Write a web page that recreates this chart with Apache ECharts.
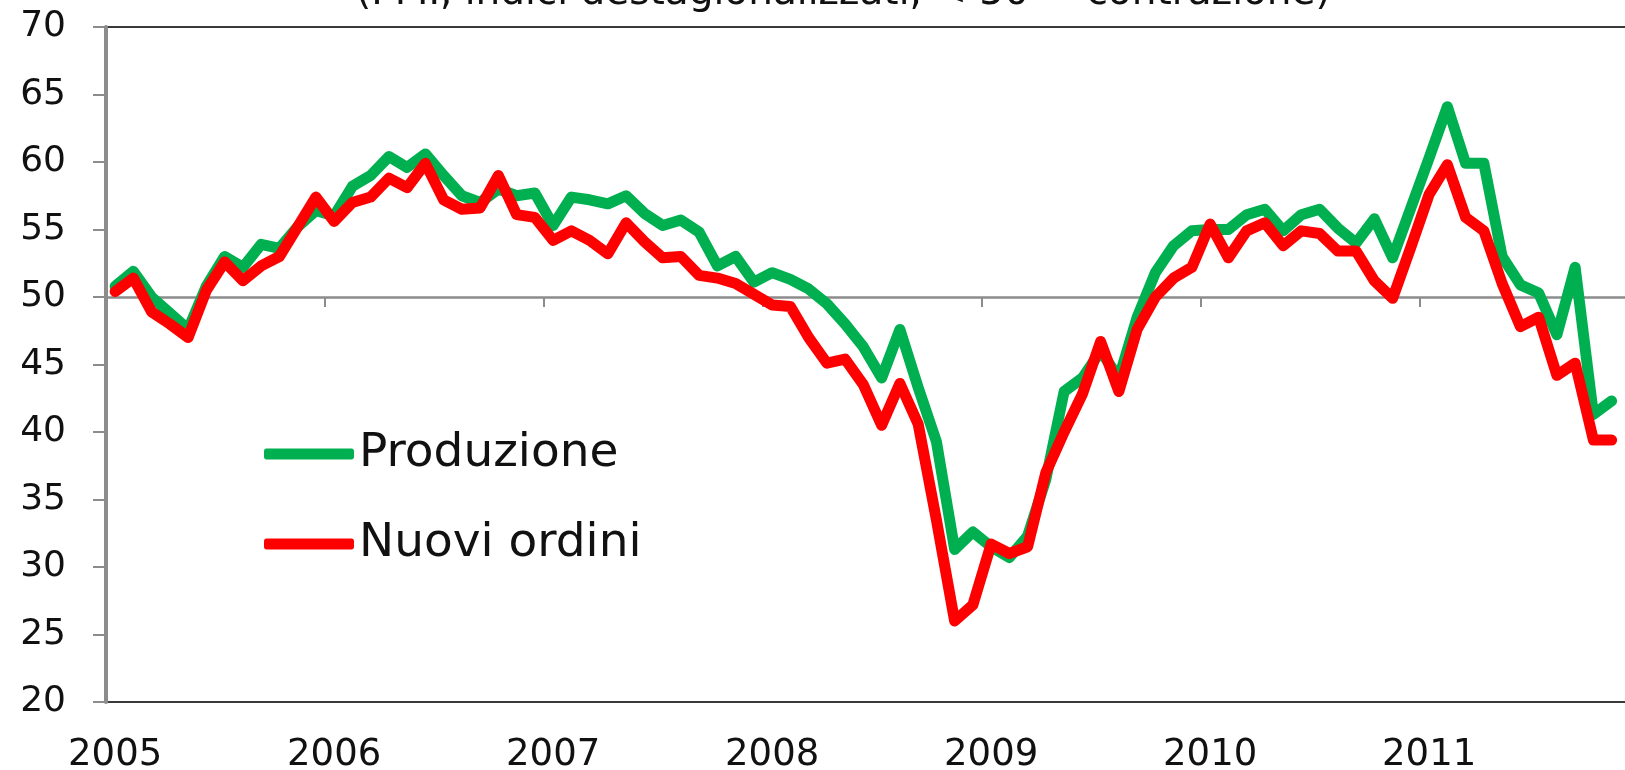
<!DOCTYPE html>
<html>
<head>
<meta charset="utf-8">
<script src="https://cdn.jsdelivr.net/npm/echarts@6/dist/echarts.min.js"></script>
<style>
html,body{margin:0;padding:0;background:#fff;}
#chart{width:1625px;height:770px;}
</style>
</head>
<body>
<div id="chart"></div>
<script>
// Tick labels (years) and months
const years = ['2005','2006','2007','2008','2009','2010','2011'];
const months = ['01','02','03','04','05','06','07','08','09','10','11','12'];

// Series values, Jan 2005 .. Nov 2011 (PMI)
const produzione = [
  50.8, 51.9, 50.0, 48.8, 47.6, 50.8, 53.0, 52.2, 53.9, 53.6, 55.2, 56.4,
  56.0, 58.2, 59.0, 60.4, 59.6, 60.6, 59.0, 57.5, 57.0, 58.0, 57.5, 57.7,
  55.3, 57.4, 57.2, 56.9, 57.5, 56.2, 55.3, 55.7, 54.8, 52.3, 53.0, 51.1,
  51.8, 51.3, 50.6, 49.5, 48.0, 46.3, 44.0, 47.6, 43.3, 39.3, 31.3, 32.6,
  31.5, 30.7, 32.3, 36.5, 43.0, 44.0, 46.0, 44.0, 48.5, 51.8, 53.8, 54.9,
  55.0, 55.0, 56.1, 56.5, 54.9, 56.1, 56.5, 55.1, 54.0, 55.8, 52.9, 56.6,
  60.3, 64.1, 59.9, 59.9, 53.0, 50.9, 50.3, 47.2, 52.2, 41.3, 42.3
];
const nuoviOrdini = [
  50.4, 51.4, 48.9, 48.0, 47.0, 50.5, 52.6, 51.2, 52.3, 53.0, 55.2, 57.4,
  55.6, 57.0, 57.4, 58.8, 58.1, 59.9, 57.2, 56.5, 56.6, 59.0, 56.1, 55.9,
  54.2, 54.9, 54.2, 53.2, 55.5, 54.1, 52.9, 53.0, 51.6, 51.4, 51.0, 50.2,
  49.4, 49.3, 47.0, 45.1, 45.4, 43.5, 40.5, 43.6, 40.6, 33.5, 26.0, 27.2,
  31.7, 31.0, 31.5, 37.0, 40.0, 42.8, 46.7, 43.0, 47.6, 50.0, 51.4, 52.2,
  55.4, 52.9, 54.9, 55.5, 53.8, 54.9, 54.7, 53.4, 53.4, 51.2, 49.9, 53.7,
  57.6, 59.8, 55.9, 54.9, 51.0, 47.8, 48.5, 44.2, 45.1, 39.4, 39.4
];

const seriesNames = ['Produzione', 'Nuovi ordini'];
const titleText = '(PMI, indici destagionalizzati, < 50 = contrazione)';

const categories = [];
years.forEach(y => months.forEach(m => categories.push(y + '-' + m)));

const FONT = 'DejaVu Sans';
const gridTop = 27, gridBottom = 68;
const plotH = 770 - gridTop - gridBottom;
const yMin = 20, yMax = 70, yCross = 50;

const chart = echarts.init(document.getElementById('chart'), null, {renderer: 'canvas'});
chart.setOption({
  animation: false,
  backgroundColor: '#ffffff',
  title: {
    text: titleText,
    left: 356,
    top: -26,
    padding: 0,
    textStyle: {fontFamily: FONT, fontSize: 39, fontWeight: 'normal', color: '#111'}
  },
  legend: {
    data: seriesNames,
    orient: 'vertical',
    left: 264,
    top: 428,
    padding: 0,
    itemWidth: 90,
    itemHeight: 11,
    itemGap: 38,
    icon: 'roundRect',
    textStyle: {fontFamily: FONT, fontSize: 47, color: '#111', lineHeight: 52}
  },
  grid: {
    left: 106, right: -14, top: gridTop, bottom: gridBottom,
    outerBoundsMode: 'none',
    containLabel: false,
    show: true, borderColor: '#3a3a3a', borderWidth: 2, backgroundColor: 'transparent'
  },
  xAxis: [
    {
      type: 'category',
      data: categories,
      boundaryGap: true,
      position: 'bottom',
      axisLine: {show: false},
      axisTick: {show: false},
      splitLine: {show: false},
      axisLabel: {
        interval: 11,
        margin: 35,
        fontFamily: FONT, fontSize: 37, color: '#111',
        formatter: v => v.slice(0, 4)
      }
    },
    {
      type: 'category',
      data: categories,
      boundaryGap: true,
      position: 'bottom',
      offset: -plotH * (yCross - yMin) / (yMax - yMin),
      axisLine: {show: true, lineStyle: {color: '#8c8c8c', width: 2.5}},
      axisTick: {show: true, interval: 11, length: 10, lineStyle: {color: '#8c8c8c', width: 2}},
      axisLabel: {show: false},
      splitLine: {show: false}
    }
  ],
  yAxis: {
    type: 'value',
    min: yMin, max: yMax, interval: 5,
    axisLine: {show: true, lineStyle: {color: '#8c8c8c', width: 4}},
    axisTick: {show: true, length: 13, lineStyle: {color: '#8c8c8c', width: 2}},
    splitLine: {show: false},
    axisLabel: {margin: 40, fontFamily: FONT, fontSize: 36, color: '#111'}
  },
  series: [
    {
      name: seriesNames[0], type: 'line', data: produzione, xAxisIndex: 0,
      symbol: 'none', showSymbol: false,
      lineStyle: {color: '#00b050', width: 11, cap: 'round', join: 'round'},
      itemStyle: {color: '#00b050'}, z: 3
    },
    {
      name: seriesNames[1], type: 'line', data: nuoviOrdini, xAxisIndex: 0,
      symbol: 'none', showSymbol: false,
      lineStyle: {color: '#ff0000', width: 11, cap: 'round', join: 'round'},
      itemStyle: {color: '#ff0000'}, z: 4
    }
  ]
});
</script>
</body>
</html>
